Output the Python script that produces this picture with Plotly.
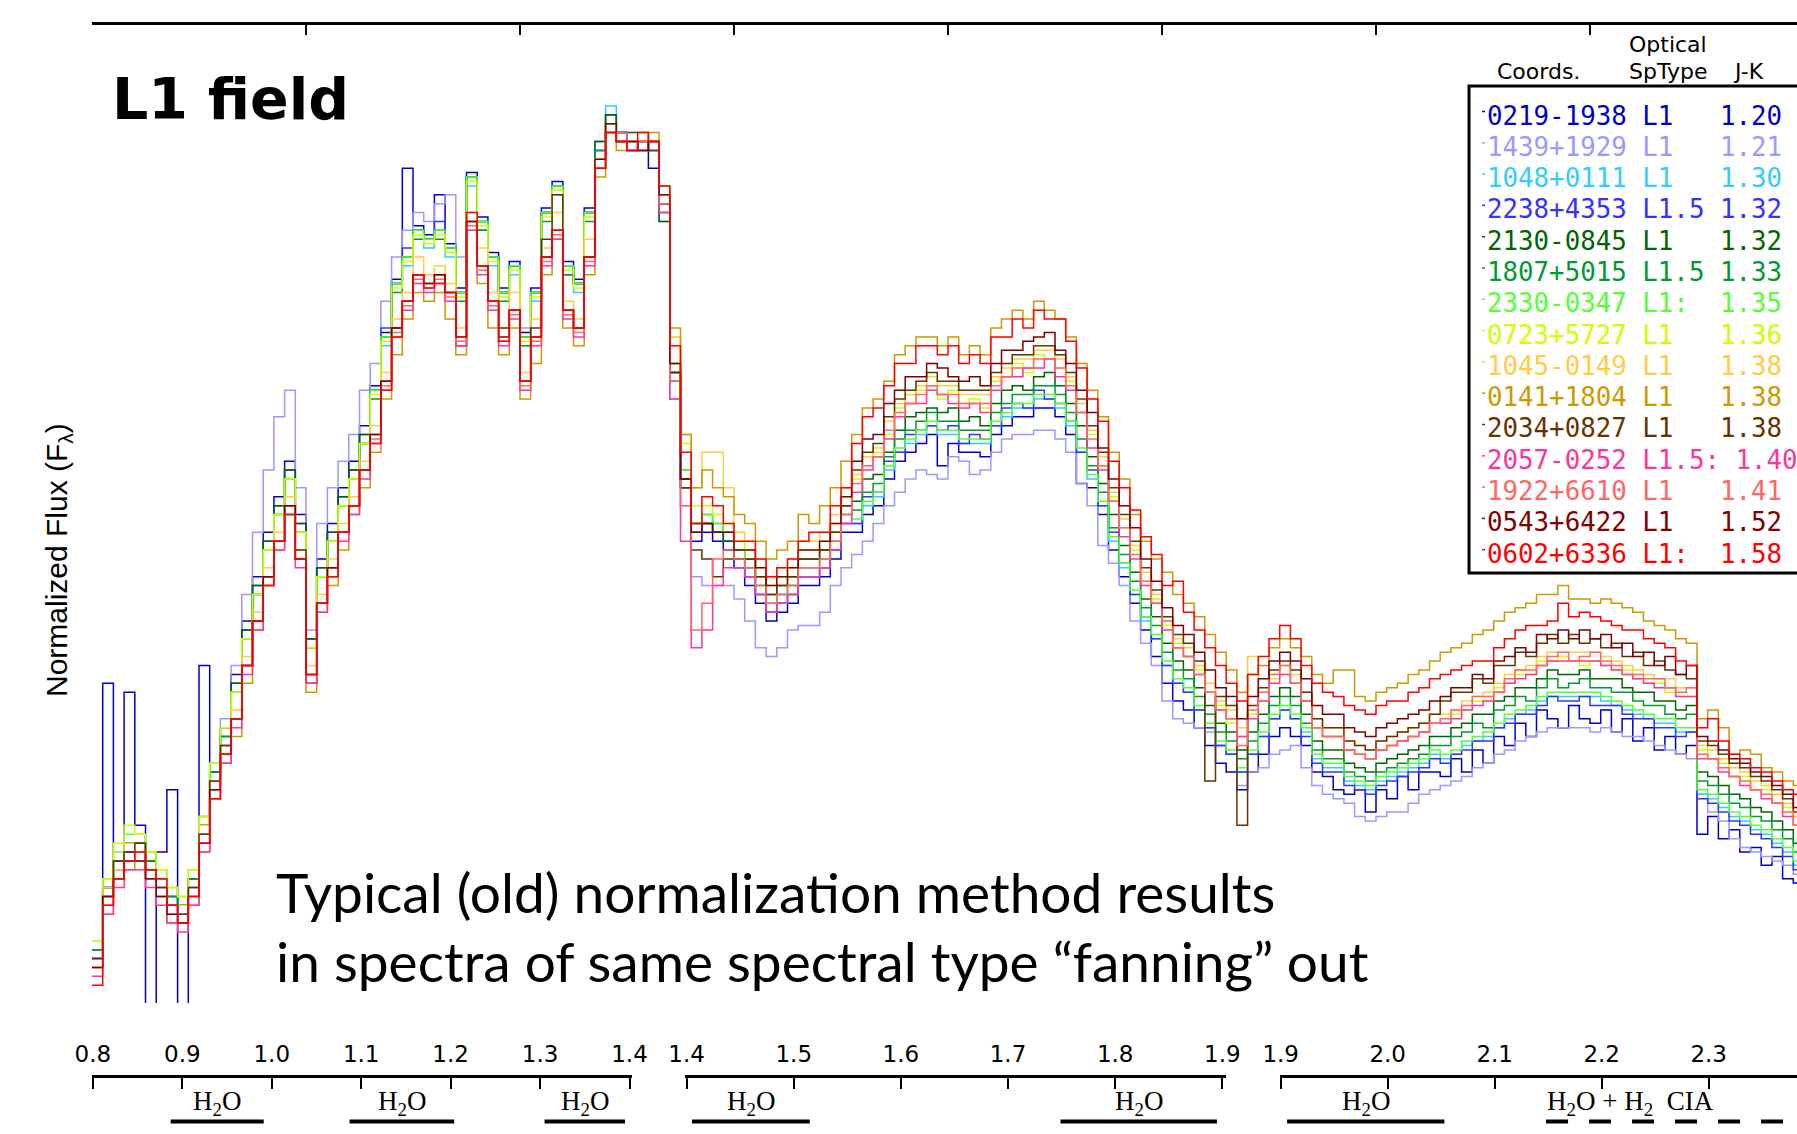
import plotly.graph_objects as go

W, H = 1797, 1134

# ---------------- data ----------------
wave = [round(0.80 + 0.01 * i, 2) for i in range(161)]  # micron sampling grid

coords = ["0219-1938", "1439+1929", "1048+0111", "2238+4353", "2130-0845",
          "1807+5015", "2330-0347", "0723+5727", "1045-0149", "0141+1804",
          "2034+0827", "2057-0252", "1922+6610", "0543+6422", "0602+6336"]
sptypes = ["L1", "L1", "L1", "L1.5", "L1", "L1.5", "L1:", "L1", "L1", "L1",
           "L1", "L1.5:", "L1", "L1", "L1:"]
jk = ["1.20", "1.21", "1.30", "1.32", "1.32", "1.33", "1.35", "1.36", "1.38",
      "1.38", "1.38", "1.40", "1.41", "1.52", "1.58"]
colors = ["#0000cc", "#9999ff", "#33ccff", "#3333ff", "#006600", "#009933",
          "#55ff33", "#ccff00", "#ffcc44", "#cc9900", "#663300", "#ff3399",
          "#ff6666", "#800000", "#ff0000"]

flux_0219_1938 = [
    5, 36, 16, 35, 20, -10, 17, 24, -10, 14, 38, 26, 31,
    37, 43, 48, 53, 57, 61, 55, 41, 50, 54, 58, 61, 65,
    69.5, 75.5, 81.5, 94, 87.5, 86.5, 91, 85.5, 80.5, 93.5, 88.5, 84.5, 80.5, 83.5, 75.5, 80.5, 89.5, 92.5, 83.5, 81.5, 89.5,
    96, 100, 98, 96, 97, 94, 90,
    70, 58, 52, 53, 52, 51, 49,
    47, 45, 43, 44, 45, 47, 47, 48, 50, 53,
    53, 55, 56, 59, 61, 62, 63, 64, 60.5, 63, 62, 62, 61.5, 64, 65, 66, 66, 67, 67, 66, 64, 58.5, 58, 55, 51, 48, 45, 42,
    39, 36, 34, 33, 31, 29, 27, 26, 24, 26, 28, 30, 31, 30,
    29, 26, 25.5, 24, 23.5, 24, 21.5, 24, 23, 25.5, 24, 26, 26,
    25.5, 27.5, 26, 28.5, 27, 30, 29, 31.5, 30, 33, 32, 31, 33.5, 32, 31.5, 33, 30.5, 32, 29.5, 31, 28.5, 30, 28, 29,
    19, 21, 18.5, 19.5, 17, 17.5, 15.5, 16.5, 14, 13.5, 12]
flux_1439_1929 = [
    5, 13, 16, 17, 16, 15, 13, 12, 11, 14, 21, 27, 32,
    38, 46, 53, 60, 66, 69, 58, 42, 54, 58, 61, 64, 69,
    72, 79, 84, 87, 89, 88, 90, 91, 84, 93, 88, 84, 80, 83, 76, 80, 89, 91, 83, 81, 89,
    97, 99, 97, 96, 96, 96, 88,
    68, 56, 48, 47, 47, 47, 45.5,
    43, 40, 39, 40, 42, 42.5, 42.5, 44, 47, 49,
    50.5, 52, 54, 56, 57.5, 59, 60, 59.5, 59, 61.5, 61, 59.5, 60, 62, 63.5, 64, 64, 64.5, 64.5, 63.5, 62, 58.5, 56, 51.5, 49.5, 47, 43, 40.5,
    38, 34, 32, 31.5, 31, 30.5, 29, 28, 24.5, 26, 26.5, 28, 28.5, 29,
    26.5, 24.5, 23.5, 23, 22.5, 21, 20.5, 21, 21.5, 21.5, 22.5, 23.5, 24,
    24.5, 25, 25.5, 26.5, 27, 28, 28.5, 29.5, 30, 30.5, 31, 31, 31, 31, 30.5, 31, 30.5, 30, 30, 29.5, 29, 28.5, 28, 27.5,
    23.5, 21.5, 20.5, 18.5, 17.5, 17, 16.5, 16, 15.5, 14.5, 14]
flux_1048_0111 = [
    6, 13, 16, 18, 18, 16, 14, 12, 11, 14, 20, 26, 30,
    35, 41, 46, 51, 55, 59, 53, 40, 48, 52, 56, 59, 63,
    69, 74, 81, 83, 87, 85, 87, 84, 80, 92, 88, 83, 80, 82, 75, 79, 89, 91, 83, 80, 89,
    97, 101, 98, 97, 97, 97, 90,
    71, 59, 53, 54, 53, 52, 50,
    48, 46, 44, 45, 46, 48, 48, 49, 51, 54,
    54, 56, 57, 60, 62, 63, 64, 65, 64, 64, 63, 63, 63, 65, 66, 67, 67, 68, 68, 67, 65, 62, 59, 56, 52, 49, 46, 43,
    41, 38, 36, 35, 33, 31, 29, 28, 26, 28, 30, 32, 33, 32,
    30.5, 27.5, 26.5, 26.5, 25, 24.5, 24, 25, 25.5, 26, 26.5, 27, 28,
    27.5, 28, 29, 29.5, 30, 31, 32, 32.5, 33, 34, 34.5, 34.5, 34.5, 34.5, 34.5, 34, 33.5, 33, 32.5, 32, 31.5, 31.5, 30.5, 30.5,
    23.5, 23, 22, 21, 20.5, 19.5, 19, 18, 17, 15.5, 14.5]
flux_2238_4353 = [
    5, 12, 15, 17, 17, 15, 13, 11, 10, 13, 19, 25, 29,
    36, 42, 47, 52, 56, 60, 54, 41, 49, 53, 57, 60, 64,
    69, 76, 81, 85, 87, 86, 88, 85, 80, 93, 87, 84, 80, 83, 75, 80, 89, 92, 82, 81, 89,
    95, 99, 98, 97, 96, 97, 90,
    71, 59, 53, 54, 53, 52, 50,
    48, 46, 44, 45, 46, 48, 48, 49, 51, 54,
    54, 57, 57.5, 61, 62, 64, 64.5, 65, 64.5, 65, 63, 64, 63.5, 65, 67, 67.5, 67, 69, 68, 67.5, 65.5, 62, 60, 56, 53, 49.5, 46, 43.5,
    41, 38, 36, 35, 33, 31, 29, 28, 26, 28, 30, 32, 33, 32,
    30, 27, 26, 26, 24.5, 24, 23.5, 24.5, 25, 25.5, 26, 26.5, 27.5,
    27, 28, 28.5, 29.5, 29.5, 31, 31.5, 32.5, 32.5, 33.5, 34.5, 34, 34, 34.5, 33.5, 33.5, 33.5, 32.5, 32, 32, 31, 31, 30, 30.5,
    23, 22.5, 21.5, 20.5, 20, 19, 18.5, 17.5, 16.5, 15, 14]
flux_2130_0845 = [
    6, 13, 16, 18, 18, 16, 14, 12, 11, 14, 20, 26, 30,
    36, 42, 47, 52, 56, 60, 54, 41, 49, 53, 57, 60, 64,
    69, 75, 81, 84, 87, 86, 87, 85, 80, 93, 88, 84, 80, 83, 75, 80, 89, 92, 83, 81, 89,
    97, 100, 98, 98, 98, 97, 88,
    71, 59, 54, 54, 53, 52, 50,
    50, 48, 46, 47, 48, 50, 50, 51, 53, 56,
    56.5, 59, 59.5, 62, 64.5, 66, 66.5, 67, 66.5, 67, 65.5, 66, 65, 67.5, 69, 69.5, 69, 70.5, 71, 69.5, 67.5, 65, 61.5, 58.5, 55, 51.5, 48.5, 45.5,
    43.5, 40.5, 38.5, 37.5, 35.5, 33.5, 31.5, 30.5, 28.5, 30.5, 32.5, 34.5, 35.5, 34.5,
    32.5, 29.5, 28.5, 28.5, 27, 26.5, 26, 27, 27.5, 28, 28.5, 29, 30,
    30, 31, 31.5, 32.5, 32.5, 34, 34.5, 35.5, 35.5, 36.5, 37.5, 37, 37, 37.5, 36.5, 36.5, 36.5, 35.5, 35, 35, 34, 34, 33, 33.5,
    26, 25.5, 24.5, 23.5, 23, 22, 21.5, 20.5, 19.5, 18, 17]
flux_1807_5015 = [
    6, 13, 16, 18, 18, 16, 14, 12, 11, 14, 20, 26, 30,
    35, 41, 46, 51, 55, 59, 53, 40, 48, 52, 56, 59, 63,
    68, 75, 80, 84, 86, 86, 86, 85, 79, 93, 87, 84, 79, 83, 74, 80, 88, 92, 82, 81, 88,
    96, 99, 97, 97, 97, 96, 89,
    72, 60, 54, 55, 54, 53, 51,
    49, 47, 45, 46, 47, 49, 49, 50, 52, 55,
    55.5, 57.5, 58.5, 61.5, 63.5, 64.5, 65.5, 66.5, 65.5, 65.5, 64.5, 64.5, 64.5, 66.5, 67.5, 68.5, 68.5, 69.5, 69.5, 68.5, 66.5, 63.5, 60.5, 57.5, 53.5, 50.5, 47.5, 44.5,
    42.5, 39.5, 37.5, 36.5, 34.5, 32.5, 30.5, 29.5, 27.5, 29.5, 31.5, 33.5, 34.5, 33.5,
    31.5, 28.5, 27.5, 27.5, 26, 25.5, 25, 26, 26.5, 27, 27.5, 28, 29,
    29, 30, 30.5, 31.5, 31, 33, 33.5, 34.5, 34, 35.5, 36.5, 35.5, 36, 36.5, 35.5, 35.5, 35, 35, 34, 33.5, 33.5, 32.5, 32, 32.5,
    25, 24.5, 23.5, 22.5, 22, 21, 20.5, 19.5, 18.5, 17, 16]
flux_2330_0347 = [
    7, 14, 17, 19, 19, 17, 15, 13, 12, 15, 21, 27, 31,
    35, 41, 46, 51, 55, 59, 53, 40, 48, 52, 56, 59, 63,
    69, 75, 81, 84, 87, 86, 87, 85, 80, 93, 88, 84, 80, 83, 75, 80, 89, 92, 83, 81, 89,
    95, 99, 97, 97, 97, 97, 91,
    72, 60, 54, 55, 54, 53, 51,
    49, 47, 45, 46, 47, 49, 49, 50, 52, 55,
    54.5, 56.5, 57.5, 60.5, 62.5, 63.5, 64.5, 65.5, 64.5, 64.5, 63.5, 63.5, 63.5, 65.5, 66.5, 67.5, 67.5, 68.5, 68.5, 67.5, 65.5, 62.5, 59.5, 56.5, 52.5, 49.5, 46.5, 43.5,
    41.5, 38.5, 36.5, 35.5, 33.5, 31.5, 29.5, 28.5, 26.5, 28.5, 30.5, 32.5, 33.5, 32.5,
    31, 28, 27, 27, 25.5, 25, 24.5, 25.5, 26, 26.5, 27, 27.5, 28.5,
    28, 28.5, 29.5, 30, 30.5, 31.5, 32.5, 33, 33.5, 34.5, 35, 35, 35, 35, 35, 34.5, 34, 33.5, 33, 32.5, 32, 32, 31, 31,
    24, 23.5, 22.5, 21.5, 21, 20, 19.5, 18.5, 17.5, 16, 15]
flux_0723_5727 = [
    7, 14, 18, 20, 19, 17, 15, 13, 12, 15, 21, 27, 31,
    35, 41, 46, 51, 55, 59, 53, 40, 48, 52, 56, 59, 63,
    68.5, 74.5, 80.5, 83.5, 86.5, 85.5, 86.5, 84.5, 79.5, 92.5, 87.5, 83.5, 79.5, 82.5, 74.5, 79.5, 88.5, 91.5, 82.5, 80.5, 88.5,
    95, 99, 97, 97, 97, 97, 92,
    75, 63, 56, 56, 55, 54, 52,
    51, 49, 47, 48, 49, 51, 51, 52, 54, 57,
    59, 60.5, 62, 64, 67, 67.5, 69, 69.5, 68, 69, 67.5, 68, 67, 70, 70.5, 72, 71, 73, 72.5, 71.5, 70, 66.5, 64, 60.5, 57, 53.5, 51, 47.5,
    45.5, 42.5, 40.5, 39, 37.5, 35, 33.5, 31.5, 30, 32.5, 34, 36.5, 37, 36,
    34, 31, 30, 30, 28.5, 28, 27.5, 28.5, 29, 29.5, 30, 30.5, 31.5,
    31.5, 32.5, 33, 34, 34, 35.5, 36, 37, 37, 38.5, 38.5, 39, 38.5, 38, 38.5, 38, 37.5, 37.5, 36.5, 36, 36, 35, 34.5, 34.5,
    28.5, 27.5, 27, 25.5, 25.5, 24, 24, 22.5, 22, 20, 19.5]
flux_1045_0149 = [
    5, 13, 15, 18, 17, 15, 14, 11, 11, 13, 20, 25, 29,
    33, 39, 44, 49, 53, 57, 51, 38, 46, 50, 54, 57, 61,
    65, 71, 77, 80, 84, 82, 83, 81, 76, 89, 85, 80, 76, 80, 71, 77, 85, 89, 79, 77, 86,
    95, 99, 97, 97, 97, 97, 91,
    75, 64, 58, 62, 62, 58, 53,
    52, 50, 48, 49, 50, 52, 52, 53, 55, 58,
    59.5, 61.5, 62.5, 65.5, 67.5, 68.5, 69.5, 70.5, 69.5, 69.5, 68.5, 68.5, 68.5, 70.5, 71.5, 72.5, 72.5, 73.5, 73.5, 72.5, 70.5, 67.5, 64.5, 61.5, 57.5, 54.5, 51.5, 48.5,
    46, 43, 41, 40, 38, 36, 34, 33, 31, 39, 35, 37, 38, 37,
    35, 32, 31, 31, 29.5, 29, 28.5, 29.5, 30, 30.5, 31, 31.5, 32.5,
    32.5, 33, 34, 34.5, 35, 36, 37, 37.5, 38, 39, 39.5, 39.5, 39.5, 39.5, 39.5, 39, 38.5, 38, 37.5, 37, 36.5, 36.5, 35.5, 35.5,
    29, 28.5, 27.5, 26.5, 26, 25, 24.5, 23.5, 22.5, 21, 20]
flux_0141_1804 = [
    4, 10, 14, 15, 17, 14, 12, 9, 9, 11, 17, 23, 27,
    30, 36, 42, 47, 51, 55, 50, 35, 44, 47, 51, 55, 58,
    62, 68, 73, 77, 80, 79, 80, 77, 73, 87, 81, 76, 73, 76, 68, 72, 82, 86, 76, 74, 82,
    93, 98, 96, 97, 96, 98, 92,
    76, 64, 58, 60, 58, 57, 55,
    54, 52, 50, 51, 52, 55, 54, 56, 58, 61,
    64, 67, 68, 70, 73, 74, 75, 75, 74, 75, 73, 74, 73, 76, 77, 78, 77, 79, 78, 77, 75, 72, 69, 66, 62, 59, 55, 52,
    50, 48.5, 46, 45, 43.5, 41.5, 39.5, 37.5, 35, 37, 38, 40, 41, 40,
    39, 37, 36, 37.5, 37.5, 34.5, 34, 35, 35.5, 36, 37, 37.5, 38.5,
    39.5, 40, 40.5, 41.5, 42, 43, 44, 44.5, 45, 46, 46, 47, 45.5, 45.5, 45, 45.5, 45, 44.5, 44, 43, 42.5, 42, 41, 40.5,
    32, 33, 31, 28, 28.5, 28, 26.5, 26, 25, 24.5, 24]
flux_2034_0827 = [
    5, 12, 16, 17, 18, 15, 13, 11, 10, 13, 19, 25, 29,
    32, 38, 43, 48, 52, 56, 51, 36, 45, 49, 53, 56, 60,
    64, 70, 76, 79, 82, 81, 82, 80, 74, 88, 83, 79, 76, 78, 70, 76, 86, 91, 78, 76, 84,
    94, 98, 97, 96, 97, 96, 90,
    71, 58, 51, 50, 48, 50, 50,
    50, 48, 46, 47, 48, 50, 50, 51, 53, 56,
    60, 62, 63, 66, 68, 69, 70, 71, 70, 70, 69, 69, 69, 71, 72, 73, 73, 74, 74, 73, 71, 68, 65, 62, 58, 55, 52, 49,
    46.5, 43.5, 41.5, 40.5, 38.5, 25, 34.5, 33.5, 20, 33.5, 35.5, 37.5, 38.5, 37.5,
    35, 32, 31, 31, 29.5, 29, 28.5, 29.5, 30, 30.5, 31, 31.5, 32.5,
    34, 35, 35, 36.5, 36, 38, 38, 39.5, 39, 40.5, 41.5, 40.5, 41.5, 40.5, 41, 40, 40.5, 39, 39.5, 38, 38.5, 37.5, 37, 36.5,
    29.5, 29, 28, 27, 26.5, 25.5, 25, 24, 23, 21.5, 20.5]
flux_2057_0252 = [
    3, 10, 13, 15, 15, 13, 11, 9, 8, 11, 17, 23, 27,
    31, 37, 42, 47, 51, 55, 49, 36, 44, 48, 52, 55, 59,
    63, 69, 75, 78, 81, 80, 81, 79, 74, 87, 82, 78, 74, 77, 69, 74, 83, 86, 77, 75, 83,
    94, 98, 97, 96, 97, 97, 89,
    68, 52, 40, 42, 47, 49, 49,
    48, 46, 44, 45, 46, 48, 48, 49, 51, 54,
    57.5, 60, 61.5, 63.5, 66, 67.5, 67.5, 69, 68.5, 67.5, 67, 67.5, 66.5, 69, 70.5, 70.5, 71.5, 71.5, 72.5, 70.5, 69, 66.5, 62.5, 60, 56.5, 52.5, 50, 47,
    45, 42, 40, 39, 37, 35, 33, 32, 30, 32, 34, 36, 37, 36,
    34, 31, 30, 30, 28.5, 28, 27.5, 28.5, 29, 29.5, 30, 30.5, 31.5,
    31.5, 32, 33, 33.5, 34, 35, 36, 36.5, 37, 38, 38.5, 38.5, 38.5, 38.5, 38.5, 38, 37.5, 37, 36.5, 36, 35.5, 35.5, 34.5, 34.5,
    27.5, 27.5, 26, 25.5, 24.5, 24, 23, 22.5, 21, 20, 19]
flux_1922_6610 = [
    4, 11, 14, 16, 16, 14, 12, 10, 9, 12, 18, 24, 28,
    32, 38, 43, 48, 52, 56, 50, 37, 45, 49, 53, 56, 60,
    63.5, 69.5, 75.5, 78.5, 81.5, 80.5, 81.5, 79.5, 74.5, 87.5, 82.5, 78.5, 74.5, 77.5, 69.5, 74.5, 83.5, 86.5, 77.5, 75.5, 83.5,
    94, 98, 98, 97, 97, 97, 90,
    70, 56, 42, 45, 50, 51, 50,
    49, 47, 45, 46, 47, 49, 49, 50, 52, 55,
    58.5, 60.5, 61.5, 64.5, 66.5, 67.5, 68.5, 69.5, 68.5, 68.5, 67.5, 67.5, 67.5, 69.5, 70.5, 71.5, 71.5, 72.5, 72.5, 71.5, 69.5, 66.5, 63.5, 60.5, 56.5, 53.5, 50.5, 47.5,
    45, 43, 40, 39, 37, 35, 33, 32, 29, 33, 35, 37, 38, 36,
    34, 31, 30, 30, 28.5, 28, 27.5, 28.5, 29, 29.5, 30, 30.5, 31.5,
    32, 33, 33.5, 34.5, 34.5, 35, 36.5, 37.5, 37.5, 38, 39, 39.5, 38.5, 39, 39.5, 38.5, 38, 37, 37, 36.5, 36.5, 35.5, 35, 35.5,
    28, 27.5, 26.5, 25.5, 25, 24, 23.5, 22.5, 21.5, 20, 19]
flux_0543_6422 = [
    4, 12, 14, 16, 16, 14, 12, 10, 9, 12, 18, 24, 28,
    32, 38, 43, 48, 52, 56, 50, 37, 45, 49, 53, 56, 60,
    64, 70, 76, 79, 82, 81, 82, 80, 75, 88, 83, 79, 75, 78, 70, 75, 84, 87, 78, 76, 84,
    95, 99, 97, 97, 96, 97, 91,
    72, 59, 53, 54, 53, 53, 51,
    51, 49, 47, 48, 49, 51, 51, 52, 54, 57,
    61, 63.5, 64, 67.5, 69, 70.5, 70.5, 72, 71.5, 70.5, 70, 70.5, 69.5, 72, 73.5, 73.5, 74.5, 75, 75.5, 73.5, 72, 69, 66.5, 62.5, 59, 56, 53.5, 50,
    47.5, 44.5, 42.5, 41.5, 39.5, 37.5, 35.5, 34.5, 32, 34.5, 36.5, 38.5, 39.5, 38.5,
    36.5, 33.5, 32.5, 32.5, 31, 30.5, 30, 31, 31.5, 32, 32.5, 33, 34,
    34.5, 35.5, 35.5, 37, 36.5, 38.5, 39, 40, 39.5, 41.5, 41, 42, 41, 42, 41, 41.5, 40, 40.5, 39, 39.5, 38, 39, 37, 38,
    30, 29.5, 28.5, 27.5, 27, 26, 25.5, 24.5, 23.5, 22, 21]
flux_0602_6336 = [
    2, 11, 14, 16, 17, 15, 14, 11, 9, 12, 18, 23, 28,
    32, 38, 43, 47, 52, 55, 50, 37, 45, 48, 53, 56, 60,
    63, 69, 75, 79, 82, 80.5, 81, 80, 75, 89, 83, 79, 74.5, 78, 70, 75, 84, 87, 78, 76, 84,
    94, 98, 97, 96, 98, 97, 92,
    74, 62, 54, 57, 56, 54, 52,
    52, 50, 48, 49, 50, 52, 53, 53, 56, 58,
    63, 66, 67, 69.5, 72, 72, 74, 74, 73, 74, 72, 73, 72, 75, 75, 77, 76, 78, 77, 77, 74.5, 71.5, 68, 65.5, 61, 58, 55.5, 52.5,
    50.5, 47, 47.5, 44, 42, 40, 38, 36, 34, 37, 39, 41, 42.5, 41,
    38, 36, 35, 34.5, 33.5, 33, 32.5, 33.5, 34, 34, 35, 35.5, 36.5,
    37, 37.5, 38, 38.5, 38.5, 40, 41, 42, 42.5, 42.5, 43, 45, 43.5, 44, 43.5, 43, 42.5, 42, 42, 41, 40.5, 40, 38.5, 38,
    31, 32, 29.5, 28, 27.5, 26.5, 26, 25, 24, 23.5, 23]

spectra = [flux_0219_1938, flux_1439_1929, flux_1048_0111, flux_2238_4353,
           flux_2130_0845, flux_1807_5015, flux_2330_0347, flux_0723_5727,
           flux_1045_0149, flux_0141_1804, flux_2034_0827, flux_2057_0252,
           flux_1922_6610, flux_0543_6422, flux_0602_6336]
for name, s in zip(coords, spectra):
    assert len(s) == len(wave), (name, len(s))

# broken bottom axes (wavelength segments) and absorption bands
seg1_ticks = [0.8, 0.9, 1.0, 1.1, 1.2, 1.3, 1.4]
seg2_ticks = [1.4, 1.5, 1.6, 1.7, 1.8, 1.9]
seg3_ticks = [1.9, 2.0, 2.1, 2.2, 2.3]
top_ticks = [0.8, 1.0, 1.2, 1.4, 1.6, 1.8, 2.0, 2.2, 2.4]
h2o_bands = [("x2", 0.887, 0.991), ("x2", 1.087, 1.204), ("x2", 1.305, 1.395),
             ("x3", 1.405, 1.515), ("x3", 1.749, 1.895), ("x4", 1.906, 2.053)]
cia_band = ("x4", 2.148, 2.45)

# ---------------- layout helpers (pixel -> paper) ----------------
def px(x):
    return x / W

def py(y):
    return 1 - y / H

fig = go.Figure()

for name, s, c in zip(coords, spectra, colors):
    fig.add_trace(go.Scatter(x=wave, y=s, mode="lines", line=dict(color=c, width=1.5, shape="hv"),
                             name=name, xaxis="x", yaxis="y", hoverinfo="skip"))

axis_y_px = 1077.7
BAR_Y = (1 - 1121.5 / H) / (1 - axis_y_px / H)
for ax, a, b in h2o_bands:
    fig.add_trace(go.Scatter(x=[a, b], y=[BAR_Y, BAR_Y], mode="lines", line=dict(color="black", width=4),
                             xaxis=ax, yaxis="y2", hoverinfo="skip"))
fig.add_trace(go.Scatter(x=[cia_band[1], cia_band[2]], y=[BAR_Y, BAR_Y], mode="lines",
                         line=dict(color="black", width=4, dash="22px,21px"),
                         xaxis=cia_band[0], yaxis="y2", hoverinfo="skip"))
for ax in ["x2", "x3", "x4"]:
    fig.add_trace(go.Scatter(x=[None], y=[None], xaxis=ax, yaxis="y2", hoverinfo="skip"))

def seg_axis(dom_px, t0, t0px, t1, t1px, ticks):
    per = (t1px - t0px) / (t1 - t0)
    rng = [t0 - (t0px - dom_px[0]) / per, t0 + (dom_px[1] - t0px) / per]
    return dict(domain=[px(dom_px[0]), min(1, px(dom_px[1]))], range=rng, anchor="y2", side="top",
                showline=True, linewidth=3, linecolor="black", ticks="inside", ticklen=11,
                tickwidth=1.5, tickcolor="black", tickvals=ticks, ticktext=["%.1f" % t for t in ticks],
                tickfont=dict(family="DejaVu Sans", size=23, color="black"), showgrid=False,
                zeroline=False, ticklabelstandoff=4, fixedrange=True, automargin=False)

main_top, main_bot = 24.5, 1003
flux_top = (main_bot - main_top) / 8.8815

fig.update_layout(
    width=W, height=H, margin=dict(l=0, r=0, t=0, b=0, pad=0, autoexpand=False),
    paper_bgcolor="white", plot_bgcolor="rgba(0,0,0,0)", showlegend=False, hovermode=False,
    xaxis=dict(domain=[px(92), 1], range=[0.8, 0.8 + (W - 92) / 1070.0], anchor="y", side="top",
               showline=True, linewidth=3, linecolor="black", ticks="inside", ticklen=10, tickwidth=1.5,
               tickcolor="black", tickvals=top_ticks, showticklabels=False, showgrid=False,
               zeroline=False, fixedrange=True, automargin=False),
    yaxis=dict(domain=[py(main_bot), py(main_top)], range=[0, flux_top], visible=False,
               fixedrange=True, automargin=False),
    yaxis2=dict(domain=[0, py(axis_y_px)], range=[0, 1], visible=False, fixedrange=True, automargin=False),
    xaxis2=seg_axis((91.5, 631.7), 0.8, 92.9, 1.4, 629.5, seg1_ticks),
    xaxis3=seg_axis((684.8, 1225.9), 1.4, 686.6, 1.9, 1222.3, seg2_ticks),
    xaxis4=seg_axis((1279.6, 1797), 1.9, 1280.7, 2.3, 1708.7, seg3_ticks),
)

shapes = []
shapes.append(dict(type="rect", xref="paper", yref="paper", x0=px(1469), x1=px(1830), y0=py(573), y1=py(86),
                   line=dict(color="black", width=3), fillcolor="white", layer="above"))
annotations = []
row0, drow = 115.5, 31.3
for i, (cd, sp, j, c) in enumerate(zip(coords, sptypes, jk, colors)):
    yrow = row0 + drow * i
    txt = (cd + " " + sp.ljust(4) + " " + j).replace(" ", "\u00a0")
    annotations.append(dict(text=txt, x=px(1485), y=py(yrow), xref="paper", yref="paper",
                            xanchor="left", yanchor="middle", showarrow=False,
                            font=dict(family="DejaVu Sans Mono", size=25.8, color=c)))
    shapes.append(dict(type="line", xref="paper", yref="paper", x0=px(1482), x1=px(1485),
                       y0=py(yrow - 4), y1=py(yrow - 4), line=dict(color=c, width=1.5), layer="above"))

hdr_font = dict(family="DejaVu Sans", size=22, color="black")
for t, x, y in [("Optical", 1629, 45), ("Coords.", 1497, 71.5), ("SpType", 1629, 71.5), ("J-K", 1733, 71.5)]:
    annotations.append(dict(text=t, x=px(x - 2), y=py(y), xref="paper", yref="paper", xanchor="left",
                            yanchor="middle", showarrow=False, font=hdr_font))

annotations.append(dict(text="<b>L1 field</b>", x=px(110), y=py(99), xref="paper", yref="paper",
                        xanchor="left", yanchor="middle", showarrow=False,
                        font=dict(family="DejaVu Sans", size=57, color="black")))
annotations.append(dict(text="Normalized Flux (F<sub>λ</sub>)", x=px(58), y=py(560), xref="paper",
                        yref="paper", xanchor="center", yanchor="middle", textangle=-90, showarrow=False,
                        font=dict(family="Liberation Sans", size=30, color="black")))
body_font = dict(family="Lato", size=55, color="black")
annotations.append(dict(text="Typical (old) normalization method results", x=px(274), y=py(891.5),
                        xref="paper", yref="paper", xanchor="left", yanchor="middle", showarrow=False,
                        font=body_font))
annotations.append(dict(text="in spectra of same spectral type \u201cfanning\u201d out", x=px(274), y=py(960.5),
                        xref="paper", yref="paper", xanchor="left", yanchor="middle", showarrow=False,
                        font=body_font))

lab_font = dict(family="Liberation Serif", size=27, color="black")
for ax, a, b in h2o_bands:
    annotations.append(dict(text="H<sub>2</sub>O", x=(a + b) / 2, y=py(1103), xref=ax, yref="paper",
                            xanchor="center", yanchor="middle", showarrow=False, font=lab_font))
annotations.append(dict(text="H<sub>2</sub>O + H<sub>2</sub>\u00a0 CIA", x=2.227, y=py(1103), xref="x4",
                        yref="paper", xanchor="center", yanchor="middle", showarrow=False, font=lab_font))

fig.update_layout(shapes=shapes, annotations=annotations)
fig.write_html("out.html")
